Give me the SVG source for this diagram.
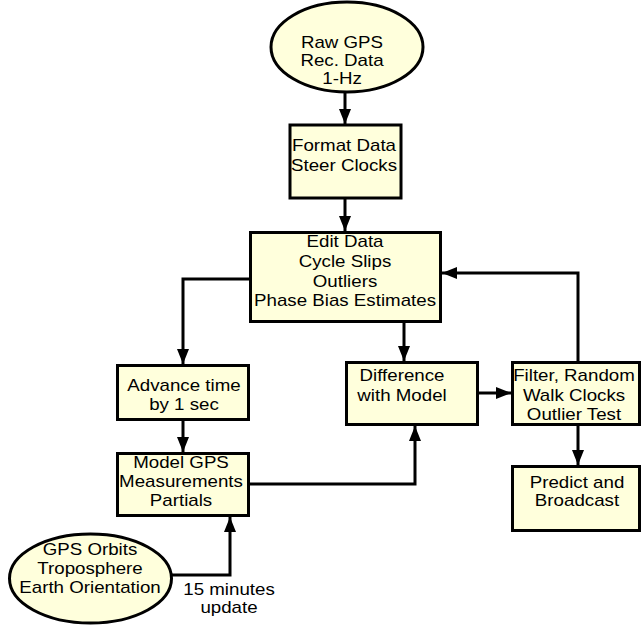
<svg xmlns="http://www.w3.org/2000/svg" width="642" height="626" viewBox="0 0 642 626">
<style>
.n{fill:#ffffdc;stroke:#000;stroke-width:3}
.c{fill:none;stroke:#000;stroke-width:3}
text{font-family:"Liberation Sans",Arial,sans-serif;font-size:16px;fill:#000;text-anchor:middle}
</style>
<defs>
<marker id="ah" markerUnits="userSpaceOnUse" markerWidth="15" markerHeight="12" refX="15" refY="6" orient="auto">
<path d="M0,0 L15,6 L0,12 z" fill="#000"/>
</marker>
</defs>
<g id="connectors">
<path class="c" d="M345,93 V124" marker-end="url(#ah)"/>
<path class="c" d="M345,199 V231" marker-end="url(#ah)"/>
<path class="c" d="M249,279 H183 V364" marker-end="url(#ah)"/>
<path class="c" d="M183,421 V452" marker-end="url(#ah)"/>
<path class="c" d="M404,323 V361" marker-end="url(#ah)"/>
<path class="c" d="M250,484 H415 V426" marker-end="url(#ah)"/>
<path class="c" d="M172,575 H230 V517" marker-end="url(#ah)"/>
<path class="c" d="M479,393 H511" marker-end="url(#ah)"/>
<path class="c" d="M578,361 V273 H442" marker-end="url(#ah)"/>
<path class="c" d="M578,426 V465" marker-end="url(#ah)"/>
</g>
<g id="raw">
<ellipse class="n" cx="347" cy="47" rx="76" ry="45"/>
<g transform="translate(342 0) scale(1.17 1)"><text x="0" y="48">Raw GPS</text><text x="0" y="66">Rec. Data</text><text x="0" y="84">1-Hz</text></g>
</g>
<g id="format">
<rect class="n" x="290" y="125" width="111" height="73"/>
<g transform="translate(344 0) scale(1.17 1)"><text x="0" y="151">Format Data</text><text x="0" y="171">Steer Clocks</text></g>
</g>
<g id="edit">
<rect class="n" x="250.5" y="232.5" width="190" height="89"/>
<g transform="translate(345 0) scale(1.17 1)"><text x="0" y="247">Edit Data</text><text x="0" y="267">Cycle Slips</text><text x="0" y="287">Outliers</text><text x="0" y="306">Phase Bias Estimates</text></g>
</g>
<g id="advance">
<rect class="n" x="117.5" y="365.5" width="131" height="54"/>
<g transform="translate(184 0) scale(1.17 1)"><text x="0" y="391">Advance time</text><text x="0" y="410">by 1 sec</text></g>
</g>
<g id="model">
<rect class="n" x="117.5" y="453.5" width="131" height="62"/>
<g transform="translate(181 0) scale(1.17 1)"><text x="0" y="468">Model GPS</text><text x="0" y="487">Measurements</text><text x="0" y="506">Partials</text></g>
</g>
<g id="difference">
<rect class="n" x="346.5" y="362.5" width="131" height="62"/>
<g transform="translate(402 0) scale(1.17 1)"><text x="0" y="381">Difference</text><text x="0" y="401">with Model</text></g>
</g>
<g id="filter">
<rect class="n" x="512.5" y="362.5" width="127" height="62"/>
<g transform="translate(574 0) scale(1.17 1)"><text x="0" y="381">Filter, Random</text><text x="0" y="401">Walk Clocks</text><text x="0" y="420">Outlier Test</text></g>
</g>
<g id="predict">
<rect class="n" x="512.5" y="466.5" width="127" height="64"/>
<g transform="translate(577 0) scale(1.17 1)"><text x="0" y="488">Predict and</text><text x="0" y="506">Broadcast</text></g>
</g>
<g id="orbits">
<ellipse class="n" cx="90.5" cy="578.5" rx="81" ry="44.5"/>
<g transform="translate(90 0) scale(1.17 1)"><text x="0" y="555">GPS Orbits</text><text x="0" y="574">Troposphere</text><text x="0" y="593">Earth Orientation</text></g>
</g>
<g id="label">
<g transform="translate(229 0) scale(1.17 1)"><text x="0" y="595">15 minutes</text><text x="0" y="613">update</text></g>
</g>
</svg>
